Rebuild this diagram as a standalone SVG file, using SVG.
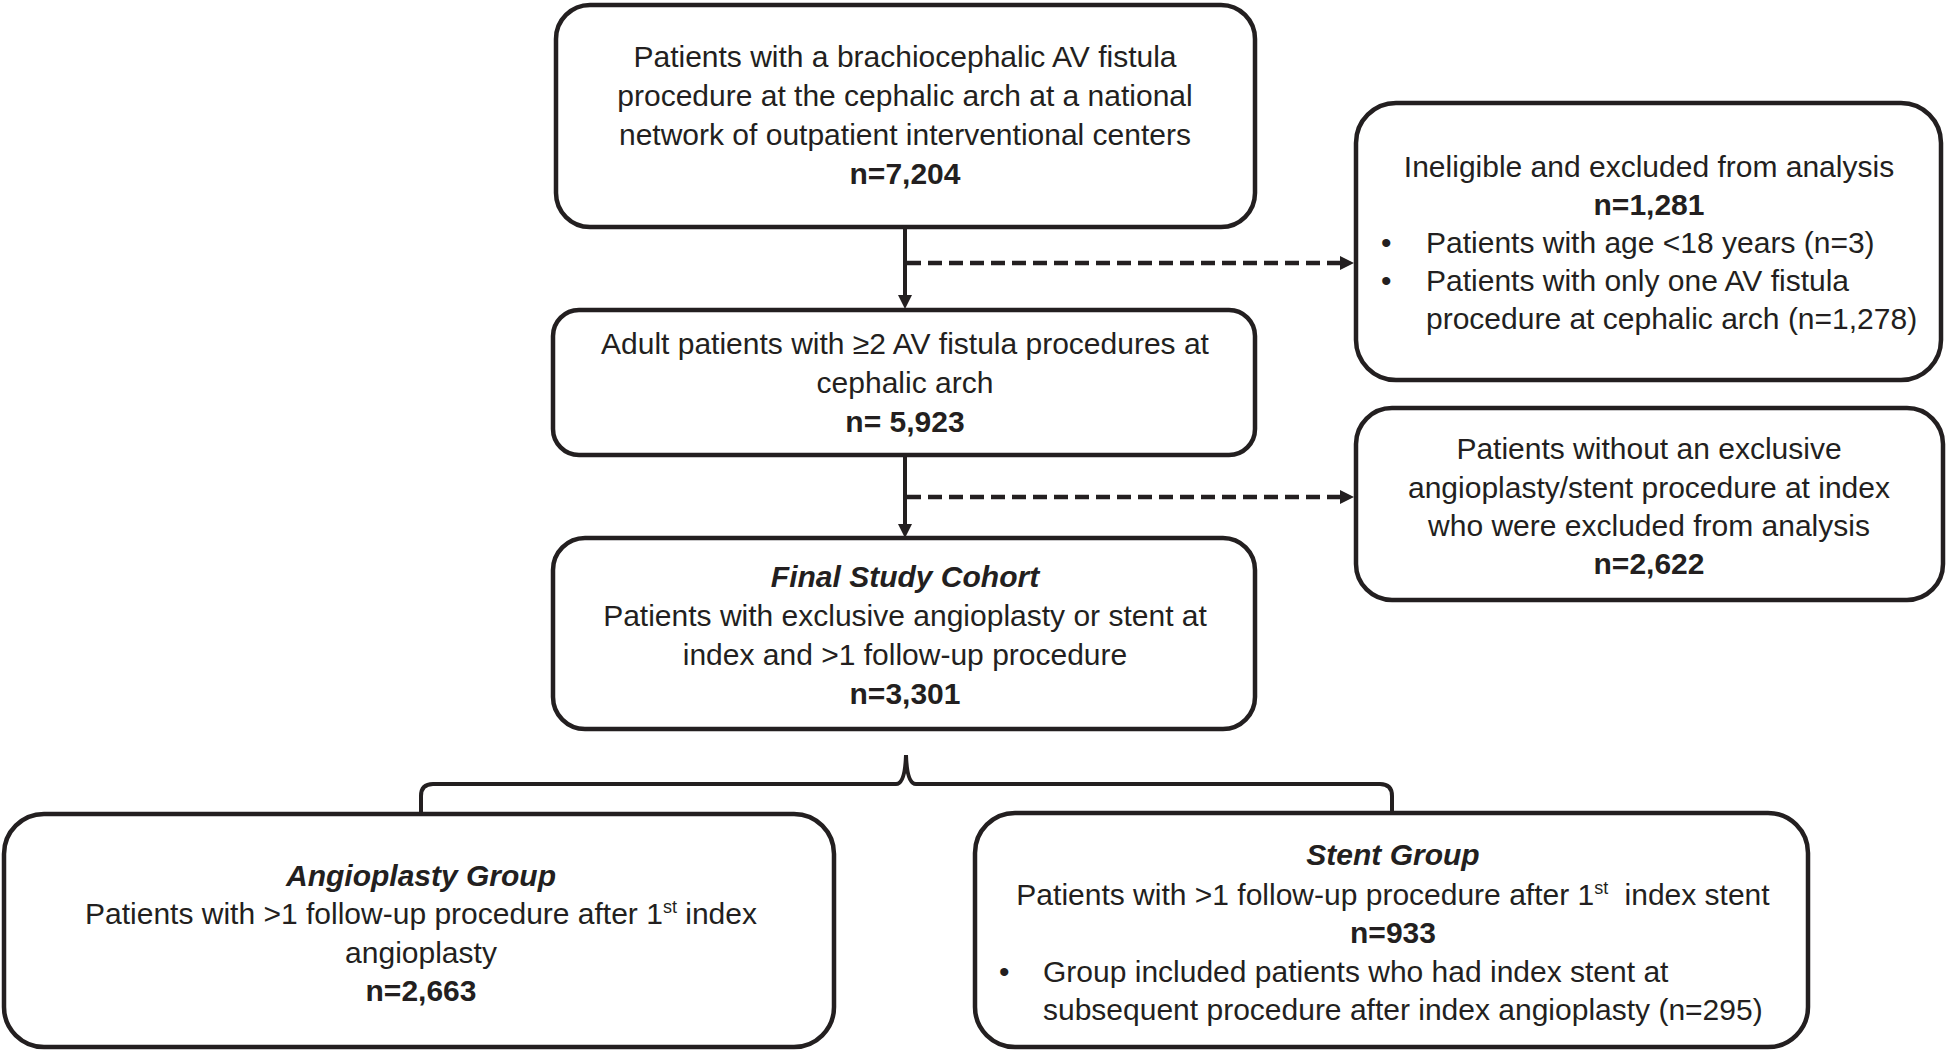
<svg xmlns="http://www.w3.org/2000/svg" width="1952" height="1050" viewBox="0 0 1952 1050">
<defs>
<style>
.box{fill:#fff;stroke:#231f20;stroke-width:4.5}
.t{font-family:"Liberation Sans",Arial,sans-serif;font-size:30px;fill:#231f20}
.c{text-anchor:middle}
.b{font-weight:bold}
.bi{font-weight:bold;font-style:italic}
.ln{fill:none;stroke:#231f20;stroke-width:4}
.dash{fill:none;stroke:#231f20;stroke-width:4.5;stroke-dasharray:14 7}
.sup{font-size:18px}
</style>
<marker id="ah" markerUnits="userSpaceOnUse" markerWidth="16" markerHeight="16" refX="2" refY="7" orient="auto">
<path d="M0,0 L14,7 L0,14 z" fill="#231f20"/>
</marker>
</defs>
<rect width="1952" height="1050" fill="#fff"/>

<g id="connectors">
<line class="ln" x1="905" y1="227" x2="905" y2="297" marker-end="url(#ah)"/>
<line class="dash" x1="907" y1="263" x2="1342" y2="263" marker-end="url(#ah)"/>
<line class="ln" x1="905" y1="454" x2="905" y2="526" marker-end="url(#ah)"/>
<line class="dash" x1="907" y1="497" x2="1342" y2="497" marker-end="url(#ah)"/>
<path class="ln" d="M421,813 L421,796 Q421,784 433,784 L896,784 Q905,784 906,755 Q907,784 916,784 L1380,784 Q1392,784 1392,796 L1392,813"/>
</g>

<g id="node-start">
<rect class="box" x="556" y="5" width="699" height="222" rx="34"/>
<text class="t c" x="905" y="67">Patients with a brachiocephalic AV fistula</text>
<text class="t c" x="905" y="106">procedure at the cephalic arch at a national</text>
<text class="t c" x="905" y="145">network of outpatient interventional centers</text>
<text class="t c b" x="905" y="184">n=7,204</text>
</g>

<g id="node-excluded1">
<rect class="box" x="1356" y="103" width="585" height="277" rx="40"/>
<text class="t c" x="1649" y="177">Ineligible and excluded from analysis</text>
<text class="t c b" x="1649" y="215">n=1,281</text>
<text class="t" x="1381" y="253">•</text>
<text class="t" x="1426" y="253">Patients with age &lt;18 years (n=3)</text>
<text class="t" x="1381" y="291">•</text>
<text class="t" x="1426" y="291">Patients with only one AV fistula</text>
<text class="t" x="1426" y="329">procedure at cephalic arch (n=1,278)</text>
</g>

<g id="node-adult">
<rect class="box" x="553" y="310" width="702" height="145" rx="26"/>
<text class="t c" x="905" y="354">Adult patients with ≥2 AV fistula procedures at</text>
<text class="t c" x="905" y="393">cephalic arch</text>
<text class="t c b" x="905" y="432">n= 5,923</text>
</g>

<g id="node-excluded2">
<rect class="box" x="1356" y="408" width="587" height="192" rx="36"/>
<text class="t c" x="1649" y="459">Patients without an exclusive</text>
<text class="t c" x="1649" y="498">angioplasty/stent procedure at index</text>
<text class="t c" x="1649" y="536">who were excluded from analysis</text>
<text class="t c b" x="1649" y="574">n=2,622</text>
</g>

<g id="node-final">
<rect class="box" x="553" y="538" width="702" height="191" rx="32"/>
<text class="t c bi" x="905" y="587">Final Study Cohort</text>
<text class="t c" x="905" y="626">Patients with exclusive angioplasty or stent at</text>
<text class="t c" x="905" y="665">index and &gt;1 follow-up procedure</text>
<text class="t c b" x="905" y="704">n=3,301</text>
</g>

<g id="node-angioplasty">
<rect class="box" x="4" y="814" width="830" height="233" rx="40"/>
<text class="t c bi" x="421" y="886">Angioplasty Group</text>
<text class="t c" x="421" y="924">Patients with &gt;1 follow-up procedure after 1<tspan class="sup" baseline-shift="11">st</tspan> index</text>
<text class="t c" x="421" y="963">angioplasty</text>
<text class="t c b" x="421" y="1001">n=2,663</text>
</g>

<g id="node-stent">
<rect class="box" x="975" y="813" width="833" height="234" rx="40"/>
<text class="t c bi" x="1393" y="865">Stent Group</text>
<text class="t c" x="1393" y="905">Patients with &gt;1 follow-up procedure after 1<tspan class="sup" baseline-shift="11">st</tspan><tspan dx="8"> index stent</tspan></text>
<text class="t c b" x="1393" y="943">n=933</text>
<text class="t" x="999" y="982">•</text>
<text class="t" x="1043" y="982">Group included patients who had index stent at</text>
<text class="t" x="1043" y="1020">subsequent procedure after index angioplasty (n=295)</text>
</g>
</svg>
